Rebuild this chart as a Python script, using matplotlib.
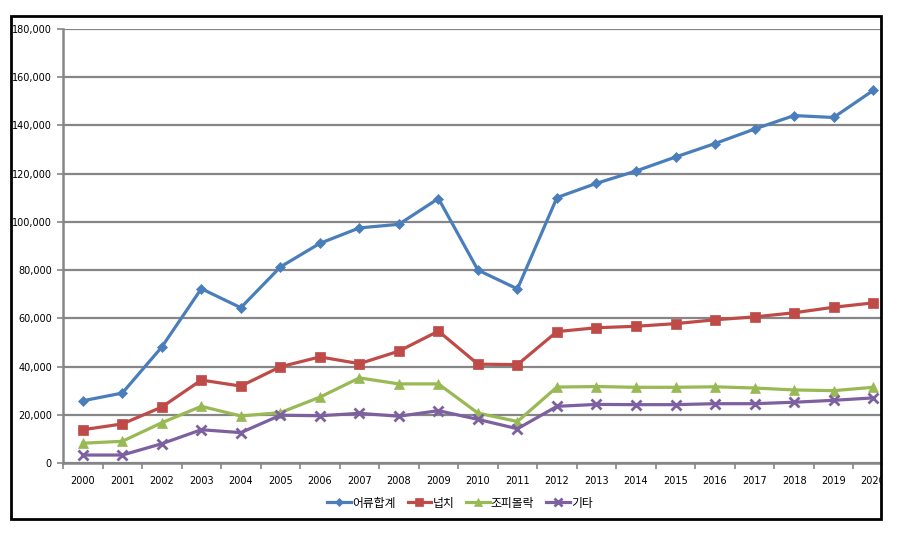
import matplotlib
matplotlib.use('Agg')
import matplotlib.pyplot as plt
from matplotlib.patches import Rectangle
from matplotlib.ticker import FuncFormatter, FixedLocator
from matplotlib.transforms import Bbox, TransformedBbox

years = ['2000', '2001', '2002', '2003', '2004', '2005', '2006', '2007', '2008', '2009', '2010',
         '2011', '2012', '2013', '2014', '2015', '2016', '2017', '2018', '2019', '2020']
fish_total = [25800, 29000, 48100, 72300, 64400, 81300, 91100, 97500, 99000, 109700, 80000,
              72200, 110100, 116000, 121100, 126900, 132500, 138500, 144100, 143300, 154500]
flounder = [13800, 16200, 23200, 34400, 31900, 39900, 44000, 41200, 46400, 54700, 41000,
            40800, 54500, 56100, 56700, 57800, 59400, 60600, 62300, 64600, 66400]
rockfish = [8200, 9000, 16700, 23500, 19500, 20900, 27300, 35300, 32800, 32800, 20700,
            17200, 31500, 31700, 31400, 31400, 31600, 31100, 30300, 30000, 31400]
others = [3300, 3300, 8000, 13800, 12600, 19800, 19600, 20600, 19400, 21700, 18100,
          14200, 23500, 24300, 24200, 24200, 24600, 24600, 25200, 26000, 27000]
names = ['어류합계', '넙치', '조피볼락', '기타']

fig = plt.figure(figsize=(8.98, 5.34), dpi=100)
ax = fig.add_axes([63/898, 71/534, 818/898, 434/534])

x = list(range(len(years)))
series = [fish_total, flounder, rockfish, others]
colors = ['#4A7EBB', '#BE4B48', '#98B954', '#7D60A0']
markers = ['D', 's', '^', 'x']
msizes = [5, 7, 7, 7]
for vals, name, c, m, ms in zip(series, names, colors, markers, msizes):
    ax.plot(x, vals, color=c, lw=2.3, marker=m, ms=ms, mew=2 if m == 'x' else 0.5,
            mec=c, label=name, zorder=3, clip_on=False)

ax.set_ylim(0, 180000)
ax.set_xlim(-0.5, 20.2)
ax.set_yticks(range(0, 180001, 20000))
ax.yaxis.set_major_formatter(FuncFormatter(lambda v, p: f'{int(v):,}'))
ax.grid(axis='y', color='#868686', lw=1.6)
ax.set_axisbelow(True)

ax.set_xticks(x)
ax.set_xticklabels(years)
ax.xaxis.set_minor_locator(FixedLocator([i + 0.5 for i in range(-1, 21)]))
ax.tick_params(axis='x', which='major', length=0, pad=9, labelsize=7)
ax.tick_params(axis='x', which='minor', length=4, width=1.2, color='#868686')
ax.tick_params(axis='y', length=4, width=1.2, color='#868686', labelsize=7, pad=4)

for s in ['top', 'right']:
    ax.spines[s].set_visible(False)
for s in ['left', 'bottom']:
    ax.spines[s].set_color('#868686')
    ax.spines[s].set_linewidth(1.8)

clip = TransformedBbox(Bbox([[0, 0], [881/898, 1]]), fig.transFigure)
for lbl in ax.get_xticklabels():
    lbl.set_clip_on(True)
    lbl.set_clip_box(clip)

fig.patches.append(Rectangle((11/898, 15/534), 870/898, 503/534, transform=fig.transFigure,
                             fill=False, ec='black', lw=2, zorder=10))

leg = fig.legend(loc='center', bbox_to_anchor=(460/898, 31/534), ncol=4, frameon=False,
                 prop={'family': ['Noto Sans CJK KR', 'DejaVu Sans'], 'size': 8.5},
                 handlelength=2.0, handletextpad=0.1, columnspacing=1.0, markerscale=0.8)

fig.savefig('out.png', dpi=100)
